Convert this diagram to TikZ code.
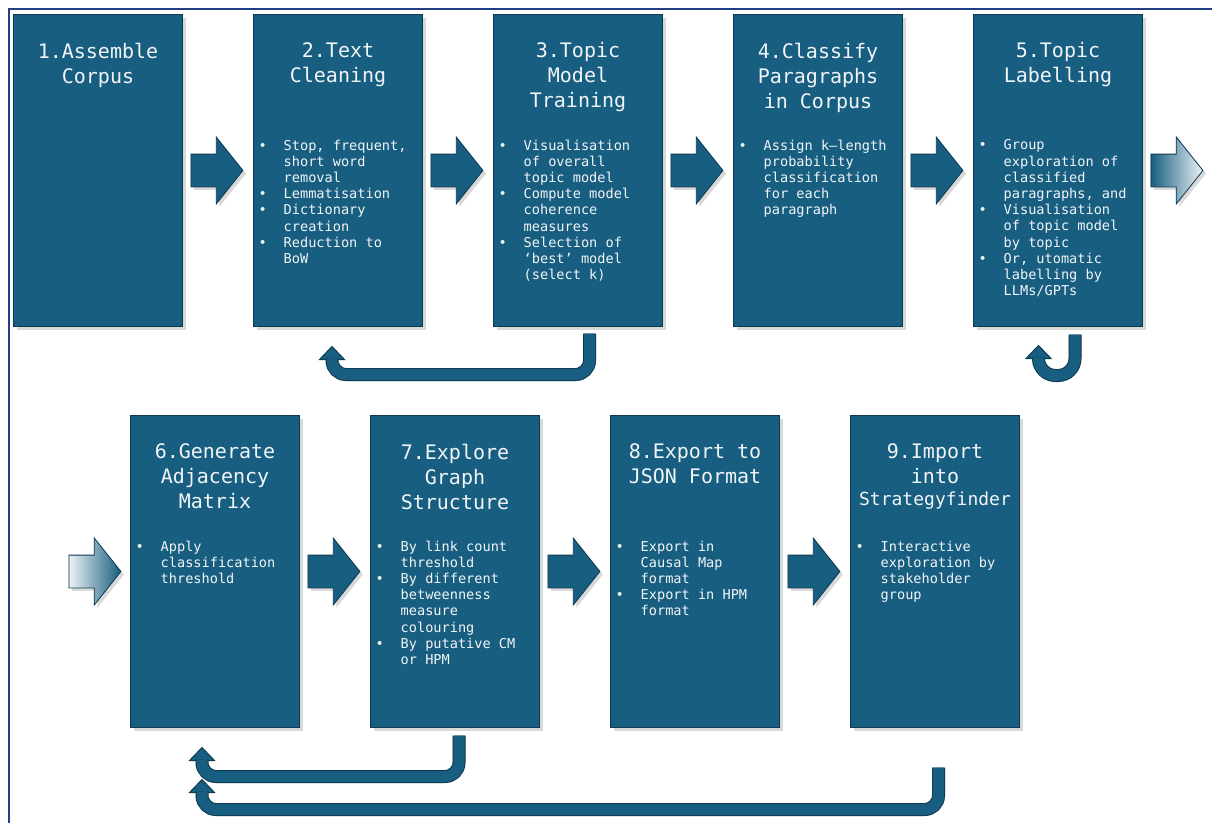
\documentclass[tikz,border=0pt]{standalone}
\usepackage{fontspec}
\setmonofont{DejaVu Sans Mono}
\usepackage{tikz}
\usetikzlibrary{positioning,calc,shapes.arrows,shadows}
\definecolor{stagecol}{HTML}{175E80}
\definecolor{edgecol}{HTML}{0E3B52}
\definecolor{framecol}{HTML}{223F85}
\definecolor{textcol}{HTML}{F2F5F7}
\newcommand\bul{\makebox[25pt][l]{\textbullet}}
\newcommand\cnt{\hspace*{25pt}}

\begin{document}
\begin{tikzpicture}[x=1pt,y=-1pt,font=\ttfamily,
   stage/.style={rectangle,fill=stagecol,draw=edgecol,line width=1pt,
              minimum width=169pt,minimum height=312pt,inner sep=0pt,outer sep=0pt,
              drop shadow={shadow xshift=3pt,shadow yshift=-3pt,opacity=0.3}},
   title/.style={text=textcol,align=center,inner sep=0pt,
              font=\ttfamily\fontsize{20}{25}\selectfont},
   body/.style={text=textcol,align=left,inner sep=0pt,
              font=\ttfamily\fontsize{13.6}{16.2}\selectfont},
   flow/.style={single arrow,single arrow head extend=17pt,single arrow tip angle=103,
              inner xsep=0pt,inner ysep=16pt,minimum height=52pt,anchor=tail,
              fill=stagecol,draw=edgecol,line width=0.8pt,
              drop shadow={shadow xshift=3pt,shadow yshift=-3pt,opacity=0.3}},
   loopback/.style={draw=edgecol,double=stagecol,double distance=11pt,line width=1pt,
              rounded corners=14pt},
   loopshade/.style={black,opacity=0.18,line width=13pt,rounded corners=14pt},
   loophead/.style={fill=stagecol,draw=edgecol,line width=1pt,line join=miter},
   node distance=71pt,
]
\useasboundingbox (0,0) rectangle (1212,823);

% frame
\draw[framecol,line width=2.5pt] (9,823) -- (9,9) -- (1212,9);

% first row of stages
\node[stage,anchor=north west] (s1) at (13.5,14.5) {};
\node[stage,right=of s1] (s2) {};
\node[stage,right=of s2] (s3) {};
\node[stage,right=of s3] (s4) {};
\node[stage,right=of s4] (s5) {};

% second row of stages
\node[stage,anchor=north west] (s6) at (130.5,415.5) {};
\node[stage,right=of s6] (s7) {};
\node[stage,right=of s7] (s8) {};
\node[stage,right=of s8] (s9) {};

% stage titles
\node[title,below=28pt of s1.north] (h1) {1.Assemble\\Corpus};
\node[title,below=28pt of s2.north] (h2) {2.Text\\Cleaning};
\node[title,below=28pt of s3.north] (h3) {3.Topic\\Model\\Training};
\node[title,below=28pt of s4.north] (h4) {4.Classify\\Paragraphs\\in Corpus};
\node[title,below=28pt of s5.north] (h5) {5.Topic\\Labelling};
\node[title,below=28pt of s6.north] (h6) {6.Generate\\Adjacency\\Matrix};
\node[title,below=28pt of s7.north] (h7) {7.Explore\\Graph\\Structure};
\node[title,below=28pt of s8.north] (h8) {8.Export to\\JSON Format};
\node[title,below=28pt of s9.north] (h9)
     {9.Import\\into\\[-3pt]{\fontsize{18}{22}\selectfont Strategyfinder}};

% stage details
\node[body,below right=125pt and 5pt of s2.north west] (d2)
     {\bul Stop, frequent,\\\cnt short word\\\cnt removal\\\bul Lemmatisation\\
      \bul Dictionary\\\cnt creation\\\bul Reduction to\\\cnt BoW};
\node[body,below right=125pt and 5pt of s3.north west] (d3)
     {\bul Visualisation\\\cnt of overall\\\cnt topic model\\\bul Compute model\\
      \cnt coherence\\\cnt measures\\\bul Selection of\\\cnt ‘best’ model\\\cnt (select k)};
\node[body,below right=125pt and 5pt of s4.north west] (d4)
     {\bul Assign k–length\\\cnt probability\\\cnt classification\\\cnt for each\\\cnt paragraph};
\node[body,below right=125pt and 5pt of s5.north west] (d5)
     {\bul Group\\\cnt exploration of\\\cnt classified\\\cnt paragraphs, and\\
      \bul Visualisation\\\cnt of topic model\\\cnt by topic\\
      \bul Or, utomatic\\\cnt labelling by\\\cnt LLMs/GPTs};
\node[body,below right=125pt and 5pt of s6.north west] (d6)
     {\bul Apply\\\cnt classification\\\cnt threshold};
\node[body,below right=125pt and 5pt of s7.north west] (d7)
     {\bul By link count\\\cnt threshold\\\bul By different\\\cnt betweenness\\
      \cnt measure\\\cnt colouring\\\bul By putative CM\\\cnt or HPM};
\node[body,below right=125pt and 5pt of s8.north west] (d8)
     {\bul Export in\\\cnt Causal Map\\\cnt format\\\bul Export in HPM\\\cnt format};
\node[body,below right=125pt and 5pt of s9.north west] (d9)
     {\bul Interactive\\\cnt exploration by\\\cnt stakeholder\\\cnt group};

% forward arrows
\node[flow] (a12) at ($(s1.east)+(8,0)$) {};
\node[flow] (a23) at ($(s2.east)+(8,0)$) {};
\node[flow] (a34) at ($(s3.east)+(8,0)$) {};
\node[flow] (a45) at ($(s4.east)+(8,0)$) {};
\node[flow,left color=stagecol,right color=stagecol!8] (a5o) at ($(s5.east)+(8,0)$) {};
\node[flow,left color=stagecol!8,right color=stagecol] (a6i) at ($(s6.west)+(-62,0)$) {};
\node[flow] (a67) at ($(s6.east)+(8,0)$) {};
\node[flow] (a78) at ($(s7.east)+(8,0)$) {};
\node[flow] (a89) at ($(s8.east)+(8,0)$) {};

% loop-back arrows
\coordinate (u1s) at ($(s3.south)+(11.5,7)$);
\coordinate (u1t) at ($(s2.south)+(-6,20)$);
\coordinate (u2s) at ($(s5.south)+(17,8)$);
\coordinate (u2t) at ($(s5.south)+(-19.5,19)$);
\coordinate (u3s) at ($(s7.south)+(4,8)$);
\coordinate (u3t) at ($(s6.south)+(-13,20)$);
\coordinate (u4s) at ($(s9.south)+(3.5,40)$);
\coordinate (u4t) at ($(s6.south)+(-13,52)$);

\draw[loopshade,xshift=3pt,yshift=-3pt] (u1s) |- ($(u1t)+(0,28)$) -- ($(u1t)+(0,12)$);
\draw[loophead] (u1t) -- ++(12.5,13) -- ++(-25,0) -- cycle;
\draw[loopback] (u1s) |- ($(u1t)+(0,28)$) -- ($(u1t)+(0,12)$);

\draw[loopshade,rounded corners=17pt,xshift=3pt,yshift=-3pt] (u2s) |- ($(u2t)+(0,30)$) -- ($(u2t)+(0,12)$);
\draw[loophead] (u2t) -- ++(12.5,13) -- ++(-25,0) -- cycle;
\draw[loopback,rounded corners=17pt] (u2s) |- ($(u2t)+(0,30)$) -- ($(u2t)+(0,12)$);

\draw[loopshade,xshift=3pt,yshift=-3pt] (u3s) |- ($(u3t)+(0,29)$) -- ($(u3t)+(0,12)$);
\draw[loophead] (u3t) -- ++(12.5,13) -- ++(-25,0) -- cycle;
\draw[loopback] (u3s) |- ($(u3t)+(0,29)$) -- ($(u3t)+(0,12)$);

\draw[loopshade,xshift=3pt,yshift=-3pt] (u4s) |- ($(u4t)+(0,30)$) -- ($(u4t)+(0,12)$);
\draw[loophead] (u4t) -- ++(12.5,13) -- ++(-25,0) -- cycle;
\draw[loopback] (u4s) |- ($(u4t)+(0,30)$) -- ($(u4t)+(0,12)$);
\end{tikzpicture}
\end{document}
